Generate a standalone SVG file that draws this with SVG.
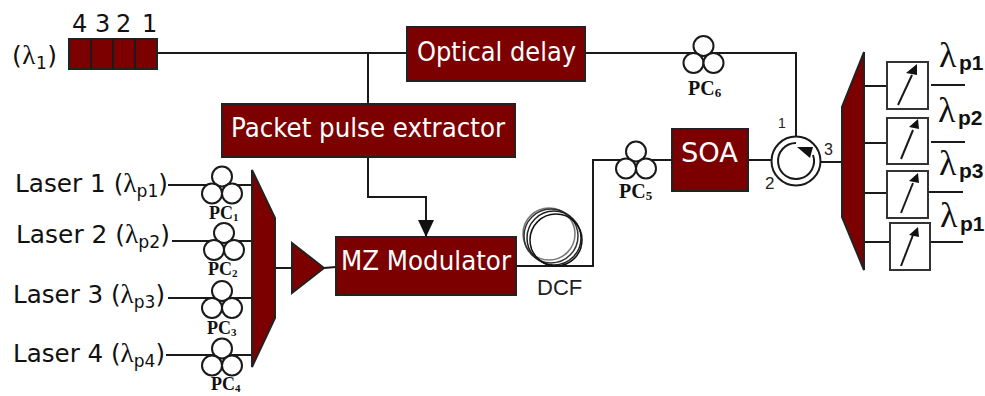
<svg xmlns="http://www.w3.org/2000/svg" width="985" height="396" viewBox="0 0 985 396">
<style>
.t{font-family:"DejaVu Sans",Verdana,sans-serif;fill:#111}
.l{font-family:"Liberation Serif",serif}
.w{font-family:"DejaVu Sans",Verdana,sans-serif;fill:#fff;font-size:26px}
.s{font-family:"Liberation Serif",serif;font-weight:bold;fill:#111}
.n{font-family:"Liberation Sans",sans-serif;fill:#222}
.o{font-family:"Liberation Sans",sans-serif;font-weight:bold;fill:#111;font-size:21px}
.lam{font-family:"Liberation Serif",serif;fill:#111;font-size:36px}
.box{fill:#7d0000;stroke:#222;stroke-width:2}
.ln{fill:none;stroke:#1a1a1a;stroke-width:2}
.c{fill:#fff;stroke:#1a1a1a;stroke-width:2}
.b{fill:#fff;stroke:#333;stroke-width:2}
.h{fill:#111}
</style>
<defs>
<g id="pc"><circle cx="0" cy="-8.5" r="10" class="c"/><circle cx="-10" cy="8.5" r="10" class="c"/><circle cx="10" cy="8.5" r="10" class="c"/></g>
<marker id="ah" markerUnits="userSpaceOnUse" markerWidth="18" markerHeight="18" refX="17" refY="9" orient="auto"><path d="M0 1L17 9L0 17Z" fill="#111"/></marker>
</defs>
<g id="connectors">
<path class="ln" d="M156 53H408M584 53H796V136"/>
<path class="ln" d="M368 53V104"/>
<path class="ln" d="M368 157V197H426V237" marker-end="url(#ah)"/>
<path class="ln" d="M168 185H252M172 241H254M168 298H252M166 355H252"/>
<path class="ln" d="M275 268H292M324 268L336 267"/>
<path class="ln" d="M515 266H593V160H672M748 160H772M820 162H842"/>
<path class="ln" d="M864 86H888M864 143H888M864 193H888M864 242H890"/>
<path class="ln" d="M931 85H965M931 142H965M928 192H963M930 242H963"/>
</g>
<g id="source">
<text class="t" x="12" y="64" font-size="25" textLength="45" lengthAdjust="spacing">(<tspan class="l" font-size="27">λ</tspan><tspan font-size="17" dy="5">1</tspan><tspan dy="-5">)</tspan></text>
<rect class="box" x="69" y="39" width="88" height="30"/>
<path class="ln" d="M91 39V69M113 39V69M135 39V69"/>
<text class="t" x="72" y="32" font-size="24">4</text><text class="t" x="95" y="32" font-size="24">3</text><text class="t" x="116" y="32" font-size="24">2</text><text class="t" x="142" y="32" font-size="24">1</text>
</g>
<g id="optical-delay"><rect class="box" x="407" y="27" width="178" height="54"/><text class="w" x="417" y="61" textLength="159" lengthAdjust="spacingAndGlyphs">Optical delay</text></g>
<g id="extractor"><rect class="box" x="222" y="104" width="293" height="53"/><text class="w" x="231" y="137" textLength="274" lengthAdjust="spacingAndGlyphs">Packet pulse extractor</text></g>
<g id="laser1"><text class="t" x="15" y="192" font-size="24.5" textLength="153" lengthAdjust="spacingAndGlyphs">Laser 1 (<tspan class="l" font-size="27">λ</tspan><tspan font-size="17" dy="5">p1</tspan><tspan dy="-5">)</tspan></text></g>
<g id="laser2"><text class="t" x="16" y="243" font-size="24.5" textLength="154" lengthAdjust="spacingAndGlyphs">Laser 2 (<tspan class="l" font-size="27">λ</tspan><tspan font-size="17" dy="5">p2</tspan><tspan dy="-5">)</tspan></text></g>
<g id="laser3"><text class="t" x="13" y="303" font-size="24.5" textLength="152" lengthAdjust="spacingAndGlyphs">Laser 3 (<tspan class="l" font-size="27">λ</tspan><tspan font-size="17" dy="5">p3</tspan><tspan dy="-5">)</tspan></text></g>
<g id="laser4"><text class="t" x="13" y="362" font-size="24.5" textLength="152" lengthAdjust="spacingAndGlyphs">Laser 4 (<tspan class="l" font-size="27">λ</tspan><tspan font-size="17" dy="5">p4</tspan><tspan dy="-5">)</tspan></text></g>
<g id="pc1"><use href="#pc" x="222" y="185"/><text class="s" x="209" y="219" font-size="18">PC<tspan font-size="11" dy="2">1</tspan></text></g>
<g id="pc2"><use href="#pc" x="224" y="241.5"/><text class="s" x="208" y="275" font-size="18">PC<tspan font-size="11" dy="2">2</tspan></text></g>
<g id="pc3"><use href="#pc" x="222" y="299.5"/><text class="s" x="207" y="334" font-size="18">PC<tspan font-size="11" dy="2">3</tspan></text></g>
<g id="pc4"><use href="#pc" x="222" y="357"/><text class="s" x="211" y="390" font-size="18">PC<tspan font-size="11" dy="2">4</tspan></text></g>
<g id="mux"><path class="box" d="M252 170L275 218V318L252 367Z"/></g>
<g id="amp"><path class="box" d="M292 243L324 268L292 293Z"/></g>
<g id="mz"><rect class="box" x="336" y="237" width="180" height="58"/><text class="w" x="341" y="270" textLength="170" lengthAdjust="spacingAndGlyphs">MZ Modulator</text></g>
<g id="dcf"><g fill="none" stroke-width="1.5"><circle cx="549" cy="234" r="26" stroke="#777"/><circle cx="551" cy="236" r="27" stroke="#333"/><circle cx="554" cy="238" r="27" stroke="#222"/><circle cx="556" cy="240" r="26" stroke="#111"/></g><text class="n" x="537" y="295" font-size="22">DCF</text></g>
<g id="pc5"><use href="#pc" x="636" y="160"/><text class="s" x="619" y="198" font-size="20">PC<tspan font-size="13" dy="2">5</tspan></text></g>
<g id="soa"><rect class="box" x="672" y="129" width="76" height="62"/><text class="w" x="681" y="162" textLength="57" lengthAdjust="spacingAndGlyphs">SOA</text></g>
<g id="pc6"><use href="#pc" x="703.5" y="54.5"/><text class="s" x="688" y="95" font-size="20">PC<tspan font-size="13" dy="2">6</tspan></text></g>
<g id="circulator"><circle class="c" cx="796" cy="161" r="24.5"/><path class="ln" d="M813 155A18 18 0 1 1 796 143"/><path class="h" d="M797 147L813 147L810 158Z"/>
<text class="n" x="778" y="128" font-size="14">1</text><text class="n" x="765" y="189" font-size="17">2</text><text class="n" x="824" y="155" font-size="16">3</text></g>
<g id="demux"><path class="box" d="M864 52V270L842 217V107Z"/></g>
<g id="filter1"><rect class="b" x="887" y="62" width="41" height="47"/><path class="ln" d="M898 105L912 75" stroke-width="1.5"/><path class="h" d="M906 73L917 64L917 75Z"/></g>
<g id="filter2"><rect class="b" x="887" y="118" width="41" height="46"/><path class="ln" d="M901 159L913 130" stroke-width="2.5"/><path class="h" d="M909 127L918 119L919 129Z"/></g>
<g id="filter3"><rect class="b" x="887" y="171" width="41" height="47"/><path class="ln" d="M901 213L913 183" stroke-width="2.5"/><path class="h" d="M909 181L918 173L919 183Z"/></g>
<g id="filter4"><rect class="b" x="890" y="223" width="40" height="47"/><path class="ln" d="M901 266L913 235" stroke-width="2.5"/><path class="h" d="M909 235L918 227L919 237Z"/></g>
<g id="out1"><text class="lam" x="939" y="67">λ</text><text class="o" x="959" y="70">p1</text></g>
<g id="out2"><text class="lam" x="938" y="122">λ</text><text class="o" x="958" y="125">p2</text></g>
<g id="out3"><text class="lam" x="939" y="175">λ</text><text class="o" x="959" y="178">p3</text></g>
<g id="out4"><text class="lam" x="940" y="227">λ</text><text class="o" x="960" y="231">p1</text></g>
</svg>
